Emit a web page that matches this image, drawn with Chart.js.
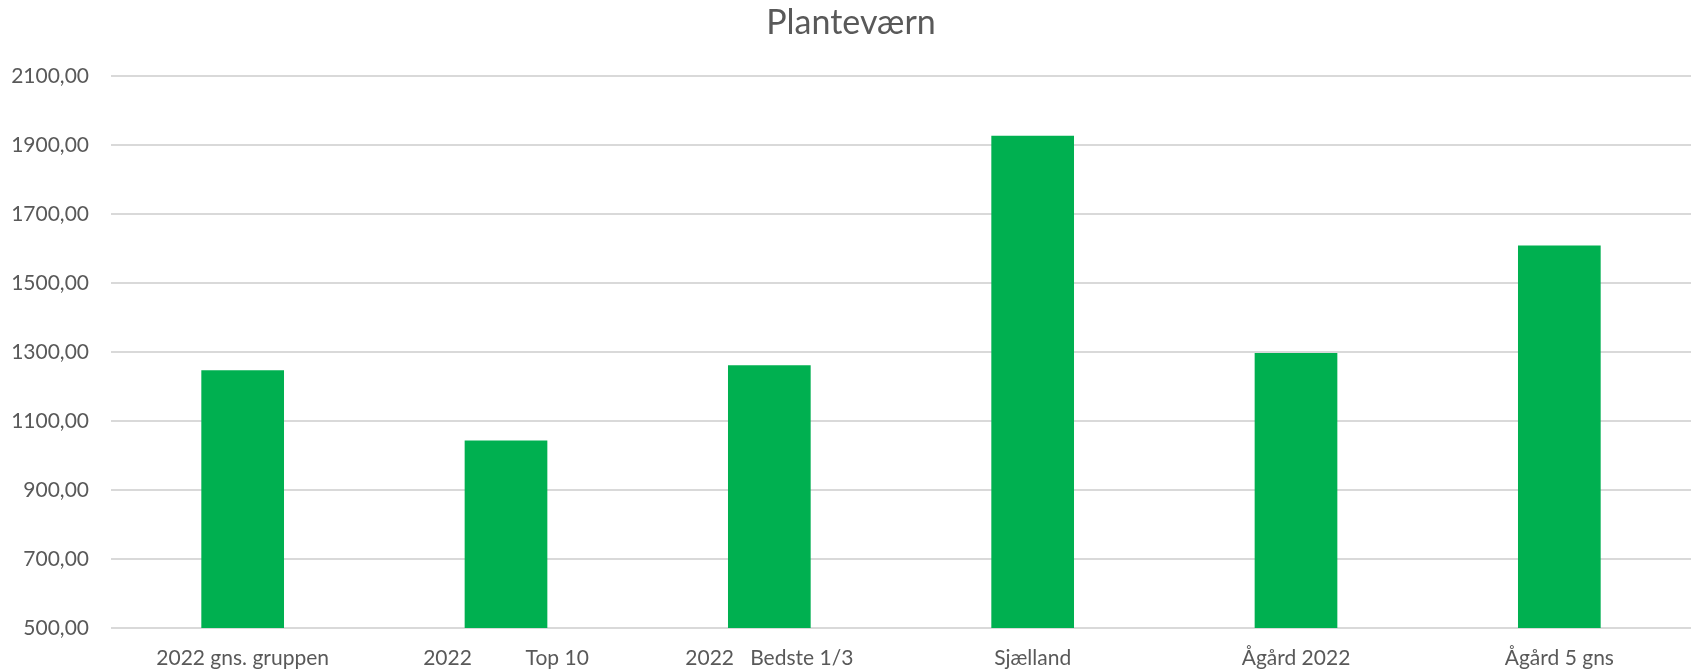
<!DOCTYPE html>
<html lang="da">
<head>
  <meta charset="UTF-8" />
  <title>Planteværn</title>
  <script src="https://cdn.jsdelivr.net/npm/chart.js@4.4.0/dist/chart.umd.min.js"></script>
  <style>
    * { box-sizing: border-box; }
    html, body { margin: 0; padding: 0; background: #ffffff; }
    .wrap { width: 1696px; height: 672px; position: relative; }
  </style>
</head>
<body>
  <div class="wrap">
    <canvas id="chart" width="1696" height="672"></canvas>
  </div>

  <script>
    /* data */
    var categories = [
      "2022 gns. gruppen",
      "2022          Top 10",
      "2022   Bedste 1/3",
      "Sjælland",
      "Ågård 2022",
      "Ågård 5 gns"
    ];
    var values = [1247, 1043, 1261, 1926, 1297, 1608];
    var yTicks = [500, 700, 900, 1100, 1300, 1500, 1700, 1900, 2100];

    var grey = "#595959";
    var gridGrey = "#d9d9d9";
    var fontFam = "Lato, 'Open Sans', sans-serif";

    new Chart(document.getElementById("chart"), {
      type: "bar",
      data: {
        labels: categories,
        datasets: [{
          data: values,
          backgroundColor: "#00b050",
          borderWidth: 0,
          categoryPercentage: 1,
          barPercentage: 0.314
        }]
      },
      options: {
        responsive: false,
        animation: false,
        layout: { padding: { left: 11, right: 5, top: 0, bottom: 0 } },
        plugins: {
          legend: { display: false },
          tooltip: { enabled: false },
          title: {
            display: true,
            text: "Planteværn",
            color: grey,
            font: { family: fontFam, size: 34, weight: "normal" },
            padding: { top: 3, bottom: 32 }
          }
        },
        scales: {
          x: {
            grid: { display: false },
            border: { display: false },
            ticks: {
              color: grey,
              font: { family: fontFam, size: 21 },
              padding: 10,
              maxRotation: 0,
              autoSkip: false
            },
            afterFit: function (s) { s.height = 44; }
          },
          y: {
            min: yTicks[0],
            max: yTicks[yTicks.length - 1],
            afterBuildTicks: function (s) {
              s.ticks = yTicks.map(function (v) { return { value: v }; });
            },
            grid: { color: gridGrey, lineWidth: 2, drawTicks: false },
            border: { display: false },
            ticks: {
              color: grey,
              font: { family: fontFam, size: 21 },
              padding: 22,
              callback: function (v) { return v.toFixed(2).replace(".", ","); }
            },
            afterFit: function (s) { s.width = 100; }
          }
        }
      }
    });
  </script>
</body>
</html>
